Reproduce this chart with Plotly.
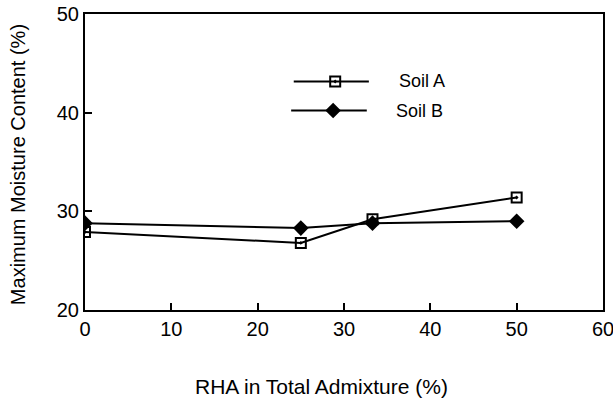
import plotly.graph_objects as go

# RHA content in the total admixture (%)
rha = [0, 25, 33.3, 50]
# Maximum moisture content (%) for each soil
soil_a = [27.9, 26.8, 29.2, 31.4]
soil_b = [28.8, 28.3, 28.8, 29.0]

x_ticks = [0, 10, 20, 30, 40, 50, 60]
y_ticks = [20, 30, 40, 50]
series_names = ["Soil A", "Soil B"]
x_title = "RHA in Total Admixture (%)"
y_title = "Maximum Moisture Content (%)"

FONT = "Liberation Sans, Arial, sans-serif"
line_style = dict(color="black", width=2)
marker_a = dict(symbol="square-open-dot", size=10, color="black", line=dict(width=2, color="black"))
marker_b = dict(symbol="diamond", size=12, color="black")

fig = go.Figure()
fig.add_trace(go.Scatter(x=rha, y=soil_a, mode="lines+markers", line=line_style,
                         marker=marker_a, name=series_names[0], showlegend=False))
fig.add_trace(go.Scatter(x=rha, y=soil_b, mode="lines+markers", line=line_style,
                         marker=marker_b, name=series_names[1], showlegend=False))

# Legend keys drawn on an overlay axis that spans the plot area as 0..1
legend_keys = [
    # (marker, name, line start, line end, marker x, y, text x)
    (marker_a, series_names[0], 0.403, 0.548, 0.483, 0.772, 0.602),
    (marker_b, series_names[1], 0.398, 0.544, 0.479, 0.674, 0.597),
]
for mk, name, kx0, kx1, kxm, ky, tx in legend_keys:
    fig.add_trace(go.Scatter(x=[kx0, kx1], y=[ky, ky], mode="lines", line=line_style,
                             xaxis="x2", yaxis="y2", showlegend=False, hoverinfo="skip"))
    fig.add_trace(go.Scatter(x=[kxm], y=[ky], mode="markers", marker=mk,
                             xaxis="x2", yaxis="y2", showlegend=False, hoverinfo="skip"))
    fig.add_annotation(x=tx, y=ky, xref="x2", yref="y2", text=name, showarrow=False,
                       xanchor="left", yanchor="middle",
                       font=dict(family=FONT, size=18, color="black"))

# Axis titles as free annotations for exact placement
fig.add_annotation(x=0.457, y=-0.26, xref="paper", yref="paper", text=x_title, showarrow=False,
                   xanchor="center", yanchor="middle",
                   font=dict(family=FONT, size=21, color="black"))
fig.add_annotation(x=-0.129, y=0.49, xref="paper", yref="paper", text=y_title, showarrow=False,
                   textangle=-90, xanchor="center", yanchor="middle",
                   font=dict(family=FONT, size=20, color="black"))

axis_common = dict(showgrid=False, zeroline=False, showline=True, linecolor="black", linewidth=2,
                   mirror=True, ticks="inside", ticklen=7, tickwidth=2, tickcolor="black",
                   automargin=False, ticklabeloverflow="allow",
                   tickfont=dict(family=FONT, size=20, color="black"))

fig.update_layout(
    width=613, height=403,
    margin=dict(l=85, r=10, t=14, b=93),
    paper_bgcolor="white", plot_bgcolor="white",
    xaxis=dict(range=[0, 60], tickvals=x_ticks, ticktext=[str(v) for v in x_ticks], **axis_common),
    yaxis=dict(range=[20, 50], tickvals=y_ticks, ticktext=[str(v) for v in y_ticks], **axis_common),
    xaxis2=dict(range=[0, 1], overlaying="x", visible=False, fixedrange=True),
    yaxis2=dict(range=[0, 1], overlaying="y", visible=False, fixedrange=True),
    showlegend=False,
)

fig.write_html("out.html")
